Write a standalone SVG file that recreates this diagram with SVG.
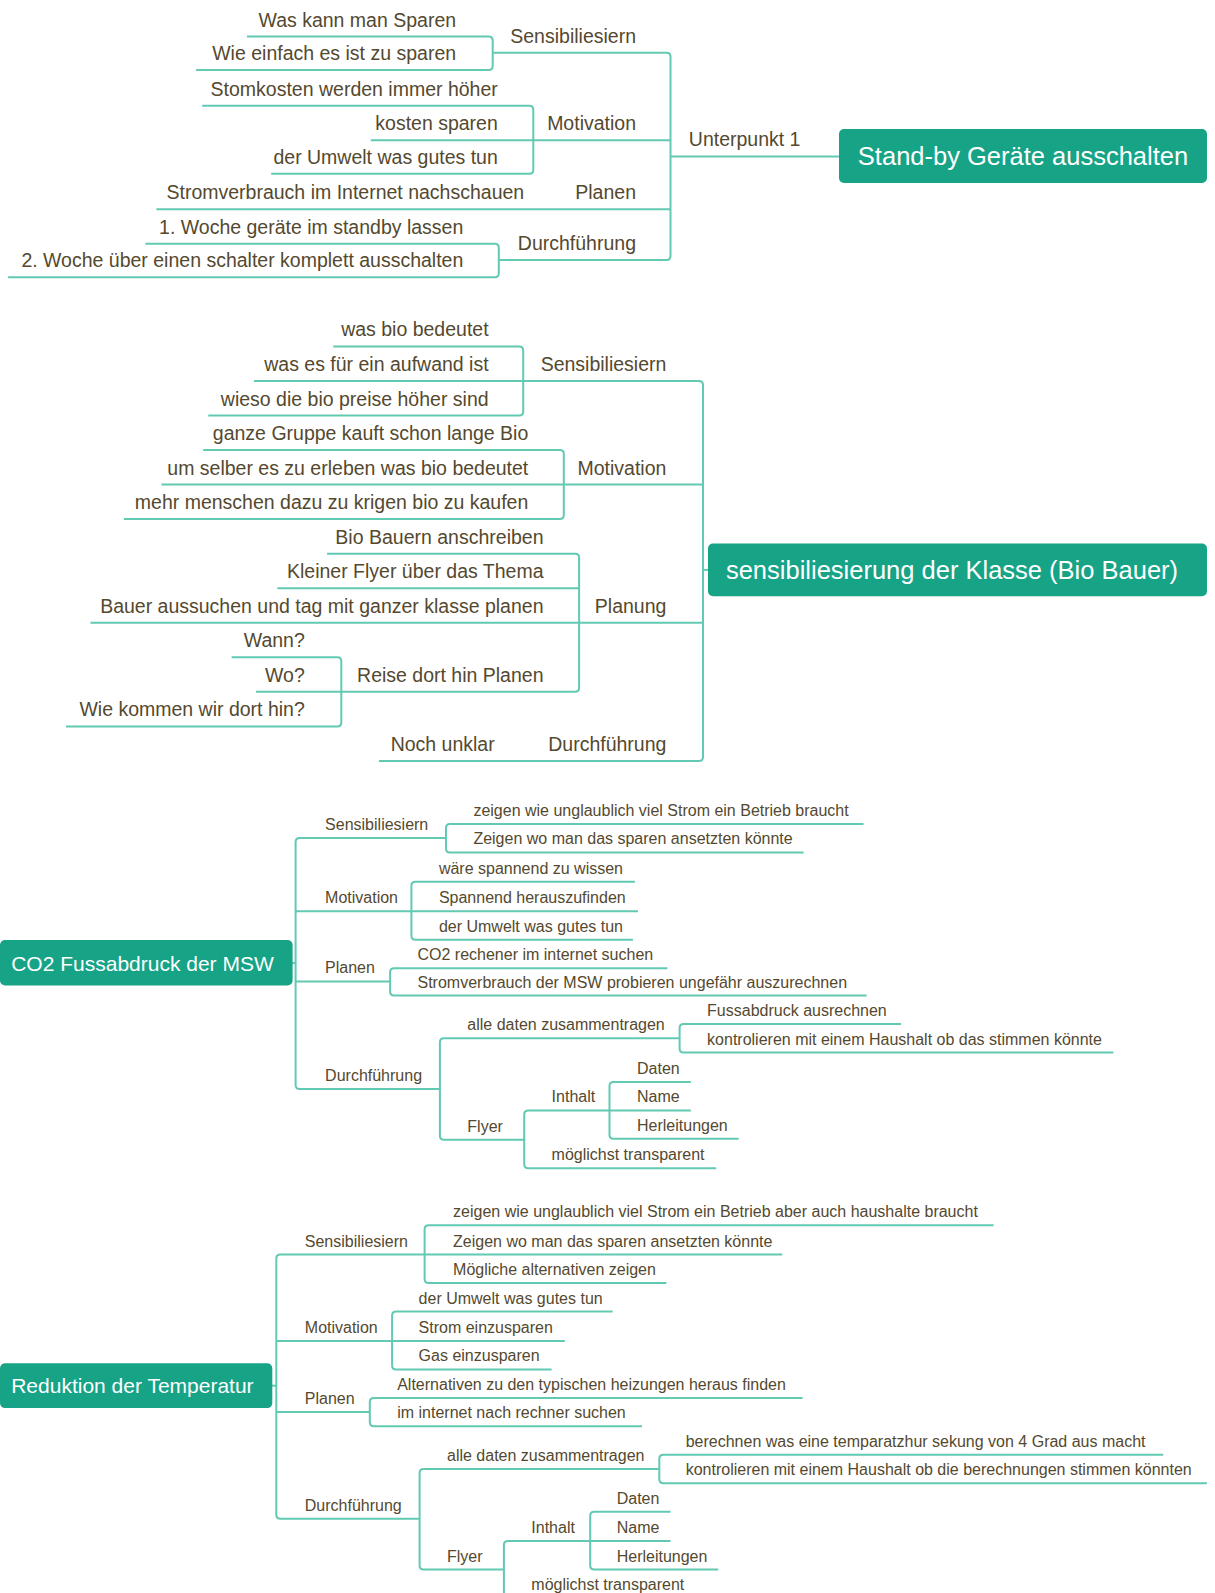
<svg xmlns="http://www.w3.org/2000/svg" width="1215" height="1593" viewBox="0 0 1215 1593">
<style>
.c{fill:none;stroke:#62c9b2;stroke-width:2}
.t{font-family:"Liberation Sans",Arial,sans-serif;fill:#54492f}
.L{font-size:19.5px}
.S{font-size:16px}
.e{text-anchor:end}
.box{fill:#16a386}
.bt{font-family:"Liberation Sans",Arial,sans-serif;fill:#ffffff}
</style>
<rect width="1215" height="1593" fill="#ffffff"/>
<g id="connectors">
<!-- section 1 -->
<path class="c" d="M246.9,36.6 H488.7 Q492.7,36.6 492.7,40.6 V66.1 Q492.7,70.1 488.7,70.1 H196.1"/>
<path class="c" d="M492.7,52.8 H666.5 Q670.5,52.8 670.5,56.8 V256.1 Q670.5,260.1 666.5,260.1 H498.8"/>
<path class="c" d="M202.2,105.7 H529.3 Q533.3,105.7 533.3,109.7 V169.7 Q533.3,173.7 529.3,173.7 H271.2"/>
<path class="c" d="M370.8,140.2 H670.5"/>
<path class="c" d="M156.4,209.3 H670.5"/>
<path class="c" d="M145.3,243.8 H494.8 Q498.8,243.8 498.8,247.8 V273.3 Q498.8,277.3 494.8,277.3 H8.1"/>
<path class="c" d="M670.5,156.4 H839"/>
<!-- section 2 -->
<path class="c" d="M333.2,346.4 H519.2 Q523.2,346.4 523.2,350.4 V411.5 Q523.2,415.5 519.2,415.5 H208.3"/>
<path class="c" d="M254,381 H699 Q703,381 703,385 V756.9 Q703,760.9 699,760.9 H378.9"/>
<path class="c" d="M203.2,450 H559.8 Q563.8,450 563.8,454 V515.1 Q563.8,519.1 559.8,519.1 H123.9"/>
<path class="c" d="M161.5,484.6 H703"/>
<path class="c" d="M327.1,553.7 H575.1 Q579.1,553.7 579.1,557.7 V687.8 Q579.1,691.8 575.1,691.8 H341.3"/>
<path class="c" d="M277.3,588.2 H579.1"/>
<path class="c" d="M90.4,622.7 H703"/>
<path class="c" d="M231.6,657.3 H337.3 Q341.3,657.3 341.3,661.3 V722.4 Q341.3,726.4 337.3,726.4 H66"/>
<path class="c" d="M256,691.8 H341.3"/>
<path class="c" d="M703,569.9 H708"/>
<!-- section 3 -->
<path class="c" d="M446,838.1 H299.6 Q295.6,838.1 295.6,842.1 V1085 Q295.6,1089 299.6,1089 H439.9"/>
<path class="c" d="M295.6,911.3 H411.4"/>
<path class="c" d="M295.6,981.4 H390.1"/>
<path class="c" d="M292,963.1 H295.6"/>
<path class="c" d="M863.5,823.9 H450 Q446,823.9 446,827.9 V848.4 Q446,852.4 450,852.4 H803.6"/>
<path class="c" d="M634.9,881.8 H415.4 Q411.4,881.8 411.4,885.8 V935.7 Q411.4,939.7 415.4,939.7 H632.9"/>
<path class="c" d="M411.4,911.3 H638"/>
<path class="c" d="M667.4,968.2 H394.1 Q390.1,968.2 390.1,972.2 V991.6 Q390.1,995.6 394.1,995.6 H866.6"/>
<path class="c" d="M679.6,1038.2 H443.9 Q439.9,1038.2 439.9,1042.2 V1135.8 Q439.9,1139.8 443.9,1139.8 H524.2"/>
<path class="c" d="M901.1,1024 H683.6 Q679.6,1024 679.6,1028 V1048.5 Q679.6,1052.5 683.6,1052.5 H1113.4"/>
<path class="c" d="M609.5,1110.4 H528.2 Q524.2,1110.4 524.2,1114.4 V1164.3 Q524.2,1168.3 528.2,1168.3 H716.2"/>
<path class="c" d="M690.8,1081.9 H613.5 Q609.5,1081.9 609.5,1085.9 V1134.8 Q609.5,1138.8 613.5,1138.8 H738.6"/>
<path class="c" d="M609.5,1110.4 H690.8"/>
<!-- section 4 -->
<path class="c" d="M424.6,1254.6 H280.3 Q276.3,1254.6 276.3,1258.6 V1514.8 Q276.3,1518.8 280.3,1518.8 H419.6"/>
<path class="c" d="M276.3,1341 H392.1"/>
<path class="c" d="M276.3,1412.1 H369.8"/>
<path class="c" d="M272,1385.7 H276.3"/>
<path class="c" d="M993.6,1225.2 H428.6 Q424.6,1225.2 424.6,1229.2 V1279.1 Q424.6,1283.1 428.6,1283.1 H666.4"/>
<path class="c" d="M424.6,1254.6 H782.2"/>
<path class="c" d="M612.6,1311.5 H396.1 Q392.1,1311.5 392.1,1315.5 V1365.4 Q392.1,1369.4 396.1,1369.4 H551.6"/>
<path class="c" d="M392.1,1341 H564.8"/>
<path class="c" d="M802.6,1397.9 H373.8 Q369.8,1397.9 369.8,1401.9 V1422.3 Q369.8,1426.3 373.8,1426.3 H642"/>
<path class="c" d="M659.3,1469 H423.6 Q419.6,1469 419.6,1473 V1565.6 Q419.6,1569.6 423.6,1569.6 H503.9"/>
<path class="c" d="M1163.2,1454.8 H663.3 Q659.3,1454.8 659.3,1458.8 V1479.2 Q659.3,1483.2 663.3,1483.2 H1206.9"/>
<path class="c" d="M590.2,1541.1 H507.9 Q503.9,1541.1 503.9,1545.1 V1600"/>
<path class="c" d="M670.5,1511.7 H594.2 Q590.2,1511.7 590.2,1515.7 V1565.6 Q590.2,1569.6 594.2,1569.6 H718.2"/>
<path class="c" d="M590.2,1541.1 H670.5"/>
</g>

<!-- Section 1 nodes -->
<g id="n1-root"><rect class="box" x="839" y="129" width="368" height="54" rx="5"/><text class="bt" x="1023" y="164.5" font-size="25.5" text-anchor="middle">Stand-by Geräte ausschalten</text></g>
<g id="n1-unterpunkt"><text class="t L" x="688.8" y="146.4">Unterpunkt 1</text></g>
<g id="n1-sens"><text class="t L e" x="636" y="42.8">Sensibiliesiern</text></g>
<g id="n1-sens-1"><text class="t L e" x="456.1" y="26.6">Was kann man Sparen</text></g>
<g id="n1-sens-2"><text class="t L e" x="456.1" y="60.1">Wie einfach es ist zu sparen</text></g>
<g id="n1-mot"><text class="t L e" x="636" y="130.2">Motivation</text></g>
<g id="n1-mot-1"><text class="t L e" x="497.8" y="95.7">Stomkosten werden immer höher</text></g>
<g id="n1-mot-2"><text class="t L e" x="497.8" y="130.2">kosten sparen</text></g>
<g id="n1-mot-3"><text class="t L e" x="497.8" y="163.7">der Umwelt was gutes tun</text></g>
<g id="n1-plan"><text class="t L e" x="636" y="199.3">Planen</text></g>
<g id="n1-plan-1"><text class="t L e" x="524.2" y="199.3">Stromverbrauch im Internet nachschauen</text></g>
<g id="n1-durch"><text class="t L e" x="636" y="250.1">Durchführung</text></g>
<g id="n1-durch-1"><text class="t L e" x="463.3" y="233.8">1. Woche geräte im standby lassen</text></g>
<g id="n1-durch-2"><text class="t L e" x="463.3" y="267.3">2. Woche über einen schalter komplett ausschalten</text></g>

<!-- Section 2 nodes -->
<g id="n2-root"><rect class="box" x="708" y="543.5" width="499" height="52.8" rx="5"/><text class="bt" x="952" y="578.8" font-size="25.5" text-anchor="middle">sensibiliesierung der Klasse (Bio Bauer)</text></g>
<g id="n2-sens"><text class="t L e" x="666.4" y="371">Sensibiliesiern</text></g>
<g id="n2-sens-1"><text class="t L e" x="488.6" y="336.4">was bio bedeutet</text></g>
<g id="n2-sens-2"><text class="t L e" x="488.6" y="371">was es für ein aufwand ist</text></g>
<g id="n2-sens-3"><text class="t L e" x="488.6" y="405.5">wieso die bio preise höher sind</text></g>
<g id="n2-mot"><text class="t L e" x="666.4" y="474.6">Motivation</text></g>
<g id="n2-mot-1"><text class="t L e" x="528.3" y="440">ganze Gruppe kauft schon lange Bio</text></g>
<g id="n2-mot-2"><text class="t L e" x="528.3" y="474.6">um selber es zu erleben was bio bedeutet</text></g>
<g id="n2-mot-3"><text class="t L e" x="528.3" y="509.1">mehr menschen dazu zu krigen bio zu kaufen</text></g>
<g id="n2-plan"><text class="t L e" x="666.4" y="612.7">Planung</text></g>
<g id="n2-plan-1"><text class="t L e" x="543.5" y="543.7">Bio Bauern anschreiben</text></g>
<g id="n2-plan-2"><text class="t L e" x="543.5" y="578.2">Kleiner Flyer über das Thema</text></g>
<g id="n2-plan-3"><text class="t L e" x="543.5" y="612.7">Bauer aussuchen und tag mit ganzer klasse planen</text></g>
<g id="n2-plan-4"><text class="t L e" x="543.5" y="681.8">Reise dort hin Planen</text></g>
<g id="n2-reise-1"><text class="t L e" x="304.8" y="647.3">Wann?</text></g>
<g id="n2-reise-2"><text class="t L e" x="304.8" y="681.8">Wo?</text></g>
<g id="n2-reise-3"><text class="t L e" x="304.8" y="716.4">Wie kommen wir dort hin?</text></g>
<g id="n2-durch"><text class="t L e" x="666.4" y="750.9">Durchführung</text></g>
<g id="n2-durch-1"><text class="t L e" x="494.7" y="750.9">Noch unklar</text></g>

<!-- Section 3 nodes -->
<g id="n3-root"><rect class="box" x="0" y="940" width="292.6" height="45.5" rx="5"/><text class="bt" x="11.2" y="970.5" font-size="21">CO2 Fussabdruck der MSW</text></g>
<g id="n3-sens"><text class="t S" x="325.1" y="830.1">Sensibiliesiern</text></g>
<g id="n3-sens-1"><text class="t S" x="473.4" y="815.9">zeigen wie unglaublich viel Strom ein Betrieb braucht</text></g>
<g id="n3-sens-2"><text class="t S" x="473.4" y="844.4">Zeigen wo man das sparen ansetzten könnte</text></g>
<g id="n3-mot"><text class="t S" x="325.1" y="903.3">Motivation</text></g>
<g id="n3-mot-1"><text class="t S" x="438.9" y="873.8">wäre spannend zu wissen</text></g>
<g id="n3-mot-2"><text class="t S" x="438.9" y="903.3">Spannend herauszufinden</text></g>
<g id="n3-mot-3"><text class="t S" x="438.9" y="931.7">der Umwelt was gutes tun</text></g>
<g id="n3-plan"><text class="t S" x="325.1" y="973.4">Planen</text></g>
<g id="n3-plan-1"><text class="t S" x="417.5" y="960.2">CO2 rechener im internet suchen</text></g>
<g id="n3-plan-2"><text class="t S" x="417.5" y="987.6">Stromverbrauch der MSW probieren ungefähr auszurechnen</text></g>
<g id="n3-durch"><text class="t S" x="325.1" y="1081">Durchführung</text></g>
<g id="n3-daten"><text class="t S" x="467.3" y="1030.2">alle daten zusammentragen</text></g>
<g id="n3-daten-1"><text class="t S" x="707.1" y="1016">Fussabdruck ausrechnen</text></g>
<g id="n3-daten-2"><text class="t S" x="707.1" y="1044.5">kontrolieren mit einem Haushalt ob das stimmen könnte</text></g>
<g id="n3-flyer"><text class="t S" x="467.3" y="1131.8">Flyer</text></g>
<g id="n3-inthalt"><text class="t S" x="551.6" y="1102.4">Inthalt</text></g>
<g id="n3-inthalt-1"><text class="t S" x="637" y="1073.9">Daten</text></g>
<g id="n3-inthalt-2"><text class="t S" x="637" y="1102.4">Name</text></g>
<g id="n3-inthalt-3"><text class="t S" x="637" y="1130.8">Herleitungen</text></g>
<g id="n3-transparent"><text class="t S" x="551.6" y="1160.3">möglichst transparent</text></g>

<!-- Section 4 nodes -->
<g id="n4-root"><rect class="box" x="0" y="1363.3" width="272.3" height="44.8" rx="5"/><text class="bt" x="11.2" y="1393.1" font-size="21">Reduktion der Temperatur</text></g>
<g id="n4-sens"><text class="t S" x="304.8" y="1246.6">Sensibiliesiern</text></g>
<g id="n4-sens-1"><text class="t S" x="453.1" y="1217.2">zeigen wie unglaublich viel Strom ein Betrieb aber auch haushalte braucht</text></g>
<g id="n4-sens-2"><text class="t S" x="453.1" y="1246.6">Zeigen wo man das sparen ansetzten könnte</text></g>
<g id="n4-sens-3"><text class="t S" x="453.1" y="1275.1">Mögliche alternativen zeigen</text></g>
<g id="n4-mot"><text class="t S" x="304.8" y="1333">Motivation</text></g>
<g id="n4-mot-1"><text class="t S" x="418.6" y="1303.5">der Umwelt was gutes tun</text></g>
<g id="n4-mot-2"><text class="t S" x="418.6" y="1333">Strom einzusparen</text></g>
<g id="n4-mot-3"><text class="t S" x="418.6" y="1361.4">Gas einzusparen</text></g>
<g id="n4-plan"><text class="t S" x="304.8" y="1404.1">Planen</text></g>
<g id="n4-plan-1"><text class="t S" x="397.2" y="1389.9">Alternativen zu den typischen heizungen heraus finden</text></g>
<g id="n4-plan-2"><text class="t S" x="397.2" y="1418.3">im internet nach rechner suchen</text></g>
<g id="n4-durch"><text class="t S" x="304.8" y="1510.8">Durchführung</text></g>
<g id="n4-daten"><text class="t S" x="447" y="1461">alle daten zusammentragen</text></g>
<g id="n4-daten-1"><text class="t S" x="685.7" y="1446.8">berechnen was eine temparatzhur sekung von 4 Grad aus macht</text></g>
<g id="n4-daten-2"><text class="t S" x="685.7" y="1475.2">kontrolieren mit einem Haushalt ob die berechnungen stimmen könnten</text></g>
<g id="n4-flyer"><text class="t S" x="447" y="1561.6">Flyer</text></g>
<g id="n4-inthalt"><text class="t S" x="531.3" y="1533.1">Inthalt</text></g>
<g id="n4-inthalt-1"><text class="t S" x="616.7" y="1503.7">Daten</text></g>
<g id="n4-inthalt-2"><text class="t S" x="616.7" y="1533.1">Name</text></g>
<g id="n4-inthalt-3"><text class="t S" x="616.7" y="1561.6">Herleitungen</text></g>
<g id="n4-transparent"><text class="t S" x="531.3" y="1590">möglichst transparent</text></g>
</svg>
